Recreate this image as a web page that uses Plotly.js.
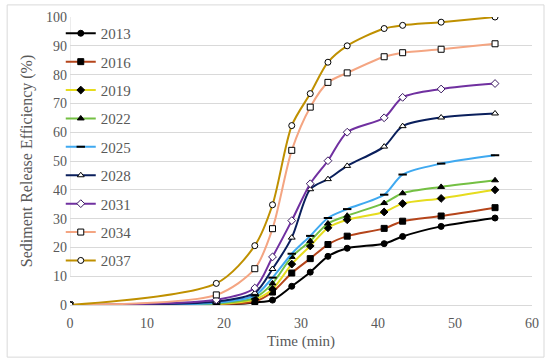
<!DOCTYPE html>
<html>
<head>
<meta charset="utf-8">
<script src="https://cdn.plot.ly/plotly-3.0.1.min.js"></script>
<style>html,body{margin:0;padding:0;background:#fff;}#chart{width:550px;height:364px;}</style>
</head>
<body>
<div id="chart"></div>
<script>
const time = [0, 19, 24, 26.3, 28.8, 31.2, 33.5, 36, 40.8, 43.2, 48.2, 55.2];
const s2013 = [0, 0, 0.9, 1.7, 6.5, 11.4, 16.9, 19.7, 21.3, 23.8, 27.3, 30.2];
const s2016 = [0, 0.2, 1.2, 4.5, 11.1, 16.1, 21.0, 23.9, 26.6, 29.1, 30.9, 33.8];
const s2019 = [0, 0.3, 2.0, 5.5, 14.2, 20.5, 26.8, 29.6, 32.3, 35.2, 37.0, 40.0];
const s2022 = [0, 0.5, 2.5, 7.5, 16.7, 22.2, 28.3, 31.0, 35.4, 38.8, 41.0, 43.3];
const s2025 = [0, 0.8, 3.3, 9.5, 17.8, 24.0, 30.2, 33.3, 38.3, 45.3, 49.1, 52.0];
const s2028 = [0, 1.2, 4.2, 12.5, 23.4, 40.2, 43.7, 48.3, 55.0, 62.1, 65.1, 66.5];
const s2031 = [0, 1.8, 5.9, 16.7, 29.3, 42.1, 50.1, 60.0, 65.0, 72.1, 75.0, 76.9];
const s2034 = [0, 3.5, 12.6, 26.5, 53.7, 68.7, 77.3, 80.6, 86.2, 87.6, 88.8, 90.7];
const s2037 = [0, 7.5, 20.6, 34.8, 62.3, 73.4, 84.3, 90.0, 96.0, 97.1, 98.2, 100.0];
const seriesNames = ['2013','2016','2019','2022','2025','2028','2031','2034','2037'];
const yTicks = [0,10,20,30,40,50,60,70,80,90,100];
const xTicks = [0,10,20,30,40,50,60];

const seriesData = [s2013,s2016,s2019,s2022,s2025,s2028,s2031,s2034,s2037];
const lineColors = ['#000000','#B5451B','#E6DC1E','#74C043','#3FA9F0','#0A1F5C','#7030A0','#F4A582','#BF9000'];
const markerSymbols = ['circle','square','diamond','triangle-up','line-ew','triangle-up','diamond','square','circle'];
const markerFill = ['#000000','#000000','#000000','#000000','#000000','#ffffff','#ffffff','#ffffff','#ffffff'];
const markerSizes = [6,6,6,6,6,6,6,6,6];

const traces = seriesData.map((ys,i)=>({
  x: time, y: ys, name: seriesNames[i], type:'scatter', mode:'lines+markers',
  legendgroup: 'g'+i,
  line:{color:lineColors[i], width:2, shape:'spline', smoothing:0.8},
  marker:{symbol:markerSymbols[i], size:markerSizes[i], color: markerFill[i],
    line:{color: i===6 ? '#3a1a60' : '#000000', width: markerSymbols[i]==='line-ew' ? 2 : 1}}
}));

const layout = {
  width:550, height:364,
  margin:{l:70, r:18, t:17, b:59},
  paper_bgcolor:'#ffffff', plot_bgcolor:'#ffffff',
  font:{family:'"Liberation Serif", "Times New Roman", serif', color:'#595959', size:14},
  xaxis:{range:[0,60], tickvals:xTicks, ticktext:xTicks.map(String), showgrid:false, zeroline:false,
    showline:false, ticks:'', ticklabelstandoff:8, tickfont:{size:14, color:'#595959'},
    title:{text:'Time (min)', font:{size:15, color:'#595959'}, standoff:5}},
  yaxis:{range:[0,100], tickvals:yTicks, ticktext:yTicks.map(String), showgrid:true, gridcolor:'#D9D9D9', gridwidth:1,
    zeroline:true, zerolinecolor:'#D9D9D9', zerolinewidth:1, showline:false, ticks:'', ticklabelstandoff:2,
    tickfont:{size:14, color:'#595959'},
    title:{text:'Sediment Release Efficiency (%)', font:{size:16, color:'#595959'}, standoff:9}},
  legend:{x:-0.02, y:1, xanchor:'left', yanchor:'top', bgcolor:'rgba(0,0,0,0)', borderwidth:0,
    traceorder:'grouped', tracegroupgap:5.9, itemwidth:30, font:{size:15, color:'#595959'}},
  shapes:[
    {type:'line', xref:'x', yref:'y', x0:0, x1:0, y0:10, y1:100, line:{color:'#D9D9D9', width:1}},
    {type:'rect', xref:'paper', yref:'paper', x0:-0.136, x1:1.026, y0:-0.181, y1:1.042, line:{color:'#D9D9D9', width:1}}
  ]
};
Plotly.newPlot('chart', traces, layout, {displayModeBar:false, staticPlot:true});
</script>
</body>
</html>
